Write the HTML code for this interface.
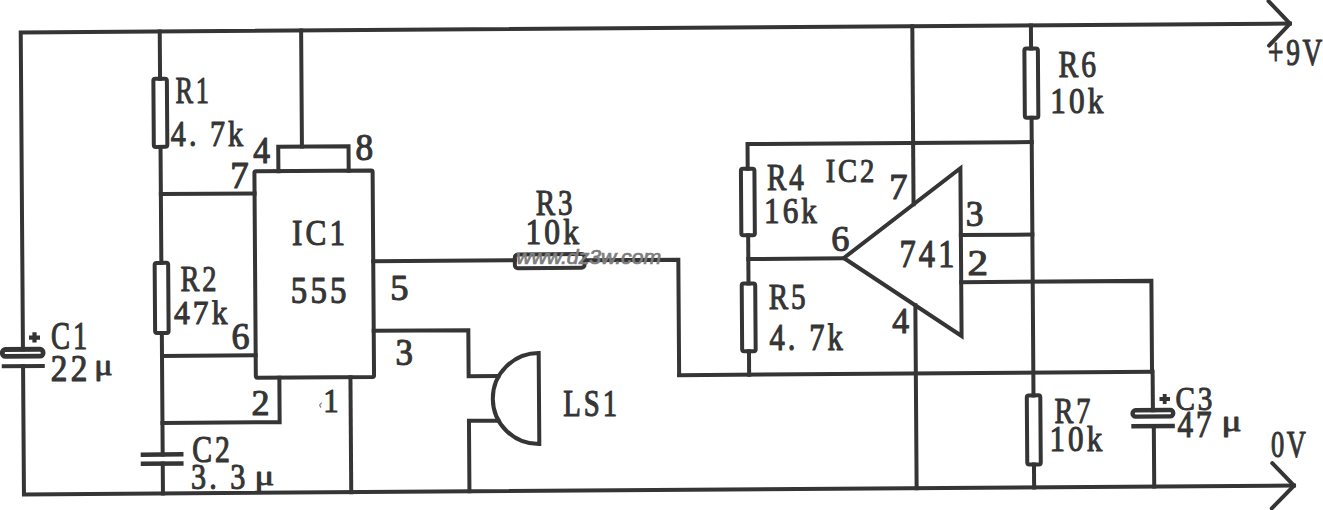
<!DOCTYPE html>
<html><head><meta charset="utf-8"><style>
html,body{margin:0;padding:0;background:#fff;width:1323px;height:510px;overflow:hidden}
svg{display:block}
</style></head><body>
<svg width="1323" height="510" viewBox="0 0 1323 510">
<rect width="1323" height="510" fill="#fff"/>
<g transform="rotate(-0.4 661 255)" stroke="#353535" stroke-width="4.0" fill="none" stroke-linejoin="miter" stroke-linecap="square">
<path d="M1291.6 28.0 L22.3 28.0 L22.3 344.7" />
<path d="M22.3 361.6 L22.3 490.0 L1292.4 490.0" />
<path d="M1270.3 5.4 L1291.6 28.0 L1270.5 49.8" stroke-linecap="round" stroke-linejoin="round"/>
<path d="M1270.8 467.4 L1292.4 490.0 L1270.0 512.7" stroke-linecap="round" stroke-linejoin="round"/>
<rect x="1.7" y="344.9" width="40.7" height="6.9" rx="3" stroke-width="4.8"/>
<path d="M1.0 361.6 L44.0 361.6" stroke-linecap="butt"/>
<path d="M161.3 28.0 L161.3 75.3" />
<rect x="154.6" y="75.3" width="13.5" height="68.1" rx="2"/>
<path d="M161.3 143.4 L161.3 259.4" />
<rect x="154.6" y="259.4" width="13.5" height="70.1" rx="2"/>
<path d="M161.3 329.5 L161.3 451.0" />
<path d="M139.3 451.0 L182.1 451.0" stroke-width="4.5" stroke-linecap="butt"/>
<path d="M139.3 460.1 L182.1 460.1" stroke-width="4.5" stroke-linecap="butt"/>
<path d="M161.3 460.1 L161.3 490.0" />
<path d="M161.3 190.6 L255.0 190.6" />
<path d="M161.3 352.4 L255.0 352.4" />
<path d="M161.3 419.5 L278.5 419.5 L278.5 375.0" />
<rect x="255.0" y="168.5" width="118.2" height="206.5" rx="1.5"/>
<path d="M279.0 168.5 L279.0 144.0 L349.3 144.0 L349.3 168.5" />
<path d="M302.7 28.0 L302.7 144.0" />
<path d="M349.6 375.0 L349.6 490.0" />
<path d="M373.2 259.3 L514.8 259.3" />
<rect x="514.8" y="253.5" width="69.7" height="13.8" rx="3"/>
<path d="M584.5 259.8 L678.3 259.8 L678.3 375.2" />
<path d="M373.2 328.8 L467.8 328.8 L467.8 375.0 L497.5 375.0" />
<path d="M497.0 419.5 L467.8 419.5 L467.8 490.0" />
<path d="M538 352.2 A46.2 45.5 0 0 0 538 443.2 Z"/>
<path d="M1032.5 144.7 L748.3 144.7 L748.3 169.4" />
<rect x="741.5" y="169.4" width="13.5" height="66.4" rx="2"/>
<path d="M748.3 235.8 L748.3 284.1" />
<rect x="741.5" y="284.1" width="13.5" height="67.8" rx="2"/>
<path d="M748.3 351.9 L748.3 375.3" />
<path d="M678.3 375.3 L1151.2 375.3" />
<path d="M748.3 259.6 L843.8 259.6" />
<path d="M843.8 259.3 L961 170.3 L961 338 Z"/>
<path d="M913.9 28.0 L913.9 206.1" />
<path d="M915.0 307.1 L915.0 490.0" />
<path d="M1032.5 28.0 L1032.5 51.1" />
<rect x="1025.8" y="51.1" width="13.5" height="69.2" rx="2"/>
<path d="M1032.5 120.3 L1032.5 398.0" />
<rect x="1025.8" y="398.0" width="13.5" height="69.1" rx="2"/>
<path d="M1032.5 467.1 L1032.5 490.0" />
<path d="M961.0 237.2 L1032.5 237.2" />
<path d="M961.0 284.3 L1151.2 284.3 L1151.2 375.3" />
<path d="M1151.8 375.3 L1151.8 413.6" />
<rect x="1131.5" y="413.6" width="40.6" height="6.3" rx="3" stroke-width="4.4"/>
<path d="M1130.1 429.6 L1173.6 429.6" stroke-width="4.5" stroke-linecap="butt"/>
<path d="M1152.6 429.6 L1152.6 490.0" />
</g>
<g font-family="Liberation Serif" font-size="200" fill="#353535" stroke="#353535" stroke-width="6.00" stroke-linejoin="round" letter-spacing="20.0">
<text transform="matrix(0.1318 0 0 0.1849 175.50 102.66)">R1</text>
<text transform="matrix(0.1506 0 0 0.1804 170.85 146.32)">4. 7k</text>
<text transform="matrix(0.1677 0 0 0.1942 253.13 163.22)">4</text>
<text transform="matrix(0.1767 0 0 0.1943 355.42 159.63)">8</text>
<text transform="matrix(0.1839 0 0 0.1898 230.16 188.33)">7</text>
<text transform="matrix(0.1560 0 0 0.1821 292.08 245.39)">IC1</text>
<text transform="matrix(0.1641 0 0 0.1942 290.72 302.73)">555</text>
<text transform="matrix(0.1826 0 0 0.1763 390.16 300.32)">5</text>
<text transform="matrix(0.1420 0 0 0.1784 180.57 291.39)">R2</text>
<text transform="matrix(0.1576 0 0 0.1724 173.94 323.98)">47k</text>
<text transform="matrix(0.1804 0 0 0.1879 231.60 349.26)">6</text>
<text transform="matrix(0.1802 0 0 0.1797 251.52 415.36)">2</text>
<text transform="matrix(0.1545 0 0 0.1732 323.34 412.48)">1</text>
<text transform="matrix(0.1742 0 0 0.1879 395.46 365.06)">3</text>
<text transform="matrix(0.1425 0 0 0.1957 51.09 348.82)">C1</text>
<text transform="matrix(0.1660 0 0 0.1877 50.80 380.64)">22</text>
<text transform="matrix(0.1708 0 0 0.1429 94.28 374.57)">μ</text>
<text transform="matrix(0.1485 0 0 0.1914 192.26 462.04)">C2</text>
<text transform="matrix(0.1507 0 0 0.1801 191.10 489.32)">3. 3</text>
<text transform="matrix(0.1843 0 0 0.1414 254.60 484.64)">μ</text>
<text transform="matrix(0.1439 0 0 0.1886 563.37 415.66)">LS1</text>
<text transform="matrix(0.1451 0 0 0.1814 535.86 215.49)">R3</text>
<text transform="matrix(0.1578 0 0 0.1816 525.39 243.59)">10k</text>
<text transform="matrix(0.1456 0 0 0.1928 766.96 189.53)">R4</text>
<text transform="matrix(0.1556 0 0 0.1755 764.02 222.52)">16k</text>
<text transform="matrix(0.1433 0 0 0.1707 825.63 182.15)">IC2</text>
<text transform="matrix(0.1815 0 0 0.1800 831.19 251.10)">6</text>
<text transform="matrix(0.1455 0 0 0.1842 768.76 308.78)">R5</text>
<text transform="matrix(0.1525 0 0 0.1872 769.55 350.38)">4. 7k</text>
<text transform="matrix(0.1828 0 0 0.1796 889.27 199.26)">7</text>
<text transform="matrix(0.1775 0 0 0.1807 965.73 225.90)">3</text>
<text transform="matrix(0.2058 0 0 0.1812 967.57 275.36)">2</text>
<text transform="matrix(0.1620 0 0 0.1964 899.38 266.81)">741</text>
<text transform="matrix(0.1687 0 0 0.1812 892.23 332.66)">4</text>
<text transform="matrix(0.1480 0 0 0.1893 1058.56 77.15)">R6</text>
<text transform="matrix(0.1562 0 0 0.1803 1050.21 113.20)">10k</text>
<text transform="matrix(0.1371 0 0 0.1936 1267.94 64.54)">+9V</text>
<text transform="matrix(0.1415 0 0 0.1819 1054.48 422.87)">R7</text>
<text transform="matrix(0.1550 0 0 0.1796 1049.43 450.90)">10k</text>
<text transform="matrix(0.1459 0 0 0.1736 1175.47 409.93)">C3</text>
<text transform="matrix(0.1556 0 0 0.1891 1177.44 437.03)">47</text>
<text transform="matrix(0.1865 0 0 0.1429 1221.58 431.17)">μ</text>
<text transform="matrix(0.1319 0 0 0.1901 1270.94 456.76)">0V</text>
</g>

<path d="M34.5 332.2 L34.5 342.6 M29 337.6 L40 337.6" stroke="#333" stroke-width="4.2" fill="none"/>
<path d="M1164.7 394 L1164.7 404 M1159.5 399 L1170 399" stroke="#333" stroke-width="3.8" fill="none"/>
<path d="M321.8 402.6 L319.6 405 L321 407.6" stroke="#8a8a8a" stroke-width="1.3" fill="none"/>
<text x="516.2" y="263.8" font-family="Liberation Sans" font-style="italic" font-size="20.5" fill="#7d7d7d" stroke="#7d7d7d" stroke-width="0.7" textLength="145" lengthAdjust="spacingAndGlyphs">www.dz3w.com</text>

</svg>
</body></html>
